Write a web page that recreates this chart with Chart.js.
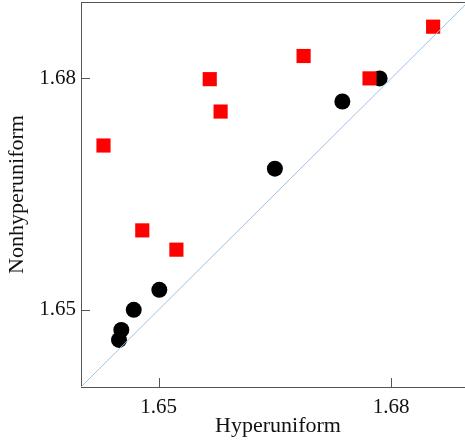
<!DOCTYPE html>
<html>
<head>
<meta charset="utf-8">
<script src="https://cdn.jsdelivr.net/npm/chart.js@4.4.1/dist/chart.umd.min.js"></script>
<style>
  html, body { margin: 0; padding: 0; background: #fff; overflow: hidden; width: 465px; height: 445px; }
  #wrap { width: 485px; height: 453px; margin-top: -8px; }
</style>
</head>
<body>
<div id="wrap"><canvas id="myChart"></canvas></div>
<script>
// 값
var nonhyper_x = [1.6429, 1.6566, 1.6580, 1.6687, 1.6772, 1.6854, 1.6479, 1.6523];
var nonhyper_y = [1.6713, 1.6799, 1.6757, 1.6829, 1.6800, 1.6867, 1.6603, 1.6578];
var hyper_x = [1.6785, 1.6737, 1.6650, 1.6501, 1.6468, 1.6452, 1.6449];
var hyper_y = [1.6800, 1.6770, 1.6683, 1.6526, 1.6500, 1.6474, 1.6461];
var diag = [1.64, 1.69];
var tick_values = [1.65, 1.68];
var axis_min = 1.64;
var x_max = 1.6908;
var y_max = 1.6899;

function pts(xs, ys) {
    return xs.map(function (x, i) { return { x: x, y: ys[i] }; });
}

// 안쪽으로 짧은 눈금 + 위쪽 테두리
var innerTicks = {
    id: 'innerTicks',
    afterDraw: function (chart) {
        var c = chart.ctx, a = chart.chartArea;
        var xs = chart.scales.x, ys = chart.scales.y;
        c.save();
        c.strokeStyle = '#555';
        c.lineWidth = 1;
        c.beginPath();
        c.moveTo(a.left, a.top + 0.5);
        c.lineTo(a.right, a.top + 0.5);
        tick_values.forEach(function (v) {
            var px = Math.round(xs.getPixelForValue(v)) + 0.5;
            c.moveTo(px, a.bottom);
            c.lineTo(px, a.bottom - 9);
            var py = Math.round(ys.getPixelForValue(v)) + 0.5;
            c.moveTo(a.left, py);
            c.lineTo(a.left + 9, py);
        });
        c.stroke();
        c.restore();
    }
};

var ctx = document.getElementById('myChart').getContext('2d');
var myChart = new Chart(ctx, {
type: 'scatter',
data: {
    datasets: [{
        label: 'diag',
        data: pts(diag, diag),
        showLine: true,
        borderColor: '#9cc3e4',
        borderWidth: 1,
        pointRadius: 0
    }, {
        label: 'Nonhyperuniform',
        data: pts(nonhyper_x, nonhyper_y),
        pointStyle: 'rect',
        pointRadius: 10,
        backgroundColor: '#ff0000',
        borderColor: '#ff0000',
        borderWidth: 0
    }, {
        label: 'Hyperuniform',
        data: pts(hyper_x, hyper_y),
        pointStyle: 'circle',
        pointRadius: 8,
        backgroundColor: '#000',
        borderColor: '#000',
        borderWidth: 0
    }]
},
options: {
    responsive: true,
    maintainAspectRatio: false,
    animation: false,
    layout: { padding: 0 },
    plugins: {
        legend: { display: false },
        tooltip: { enabled: false }
    },
    scales: {
        x: {
            type: 'linear',
            min: axis_min,
            max: x_max,
            afterBuildTicks: function (s) { s.ticks = tick_values.map(function (v) { return { value: v }; }); },
            afterFit: function (s) { s.height = 58; s.paddingLeft = 0; s.paddingRight = 0; },
            grid: { display: false, drawTicks: false },
            border: { display: true, color: '#555', width: 1 },
            ticks: {
                padding: 8,
                color: '#111',
                font: { family: 'Liberation Serif', size: 21 },
                callback: function (v) { return v.toFixed(2); }
            },
            title: {
                display: true,
                text: 'Hyperuniform',
                color: '#111',
                font: { family: 'Liberation Serif', size: 22 },
                padding: { top: 0, bottom: 6 }
            }
        },
        y: {
            type: 'linear',
            min: axis_min,
            max: y_max,
            afterBuildTicks: function (s) { s.ticks = tick_values.map(function (v) { return { value: v }; }); },
            afterFit: function (s) { s.width = 81; s.paddingTop = 0; s.paddingBottom = 0; },
            grid: { display: false, drawTicks: false },
            border: { display: true, color: '#555', width: 1 },
            ticks: {
                padding: 5,
                color: '#111',
                font: { family: 'Liberation Serif', size: 21 },
                callback: function (v) { return v.toFixed(2); }
            },
            title: {
                display: true,
                text: 'Nonhyperuniform',
                color: '#111',
                font: { family: 'Liberation Serif', size: 22 },
                padding: { top: 4, bottom: 0 }
            }
        }
    }
},
plugins: [innerTicks]
});
</script>
</body>
</html>
